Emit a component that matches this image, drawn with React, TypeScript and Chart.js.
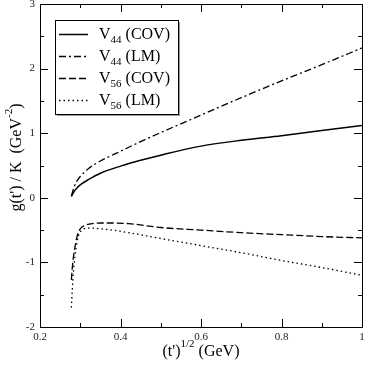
import React, { useEffect, useRef } from "react";
import { Chart, registerables } from "chart.js";

Chart.register(...registerables);

// ---------- data ----------
const xTickLabels = ["0.2", "0.4", "0.6", "0.8", "1"];
const yTickLabels = ["-2", "-1", "0", "1", "2", "3"];

const xV44 = [0.278, 0.285, 0.29, 0.3, 0.32, 0.35, 0.4, 0.45, 0.5, 0.6, 0.7, 0.8, 0.9, 1.0];
const yV44Cov = [0.02, 0.1, 0.14, 0.2, 0.28, 0.38, 0.49, 0.58, 0.66, 0.8, 0.89, 0.96, 1.04, 1.12];
const yV44Lm = [0.03, 0.17, 0.24, 0.33, 0.45, 0.57, 0.72, 0.87, 1.01, 1.28, 1.55, 1.81, 2.06, 2.32];

const xV56 = [0.278, 0.28, 0.283, 0.287, 0.292, 0.298, 0.305, 0.315, 0.33, 0.35, 0.38, 0.42, 0.5, 0.6, 0.7, 0.8, 0.9, 1.0];
const yV56Cov = [-1.27, -1.1, -0.92, -0.76, -0.6, -0.5, -0.45, -0.42, -0.4, -0.39, -0.39, -0.4, -0.46, -0.5, -0.54, -0.57, -0.6, -0.62];
const yV56Lm = [-1.7, -1.45, -1.15, -0.9, -0.68, -0.55, -0.5, -0.47, -0.47, -0.48, -0.5, -0.54, -0.63, -0.74, -0.85, -0.97, -1.08, -1.2];

const seriesNames = ["44", "44", "56", "56"];
const seriesMethods = ["(COV)", "(LM)", "(COV)", "(LM)"];

const FONT = "'Liberation Serif', 'Times New Roman', serif";

type Part = { text: string; size: number; dy: number };

function richWidth(ctx: CanvasRenderingContext2D, parts: Part[]) {
  let w = 0;
  for (const p of parts) {
    ctx.font = `${p.size}px ${FONT}`;
    w += ctx.measureText(p.text).width;
  }
  return w;
}

function drawRich(ctx: CanvasRenderingContext2D, parts: Part[], x: number, y: number, align: "left" | "center") {
  const w = richWidth(ctx, parts);
  let cx = align === "center" ? x - w / 2 : x;
  ctx.textAlign = "left";
  ctx.textBaseline = "alphabetic";
  for (const p of parts) {
    ctx.font = `${p.size}px ${FONT}`;
    ctx.fillText(p.text, cx, y + p.dy);
    cx += ctx.measureText(p.text).width;
  }
}

const decorPlugin = {
  id: "decor",
  afterDraw(chart: any) {
    const ctx: CanvasRenderingContext2D = chart.ctx;
    const { left, right, top, bottom } = chart.chartArea;
    const xs = chart.scales.x;
    const ys = chart.scales.y;
    ctx.save();
    ctx.strokeStyle = "#000";
    ctx.fillStyle = "#000";
    ctx.lineWidth = 1;
    // frame
    ctx.strokeRect(Math.round(left) + 0.5, Math.round(top) + 0.5, Math.round(right - left), Math.round(bottom - top));

    // ticks (inward, all four sides)
    const major = 8;
    const minor = 4;
    const xVals = xs.ticks.map((t: any) => t.value);
    const yVals = ys.ticks.map((t: any) => t.value);
    const xMinor: number[] = [];
    for (let i = 0; i < xVals.length - 1; i++) xMinor.push((xVals[i] + xVals[i + 1]) / 2);
    const yMinor: number[] = [];
    for (let i = 0; i < yVals.length - 1; i++) yMinor.push((yVals[i] + yVals[i + 1]) / 2);
    ctx.beginPath();
    const vx = (v: number, len: number) => {
      const px = Math.round(xs.getPixelForValue(v)) + 0.5;
      ctx.moveTo(px, bottom);
      ctx.lineTo(px, bottom - len);
      ctx.moveTo(px, top);
      ctx.lineTo(px, top + len);
    };
    const vy = (v: number, len: number) => {
      const py = Math.round(ys.getPixelForValue(v)) + 0.5;
      ctx.moveTo(left, py);
      ctx.lineTo(left + len, py);
      ctx.moveTo(right, py);
      ctx.lineTo(right - len, py);
    };
    xVals.forEach((v: number) => vx(v, major));
    xMinor.forEach((v) => vx(v, minor));
    yVals.forEach((v: number) => vy(v, major));
    yMinor.forEach((v) => vy(v, minor));
    ctx.stroke();

    // x axis title
    drawRich(
      ctx,
      [
        { text: "(t')", size: 16, dy: 0 },
        { text: "1/2", size: 11, dy: -9 },
        { text: " (GeV)", size: 16, dy: 0 },
      ],
      (left + right) / 2,
      356,
      "center"
    );

    // y axis title (rotated)
    ctx.save();
    ctx.translate(21, (top + bottom) / 2 - 8);
    ctx.rotate(-Math.PI / 2);
    drawRich(
      ctx,
      [
        { text: "g(t') / K  (GeV", size: 16, dy: 0 },
        { text: "-2", size: 11, dy: -9 },
        { text: ")", size: 16, dy: 0 },
      ],
      0,
      0,
      "center"
    );
    ctx.restore();

    // legend
    const bx = 55, by = 20, bw = 123, bh = 94;
    ctx.fillStyle = "#999";
    ctx.fillRect(bx + 2, by + 2, bw, bh);
    ctx.fillStyle = "#fff";
    ctx.fillRect(bx, by, bw, bh);
    ctx.strokeStyle = "#000";
    ctx.strokeRect(bx + 0.5, by + 0.5, bw, bh);
    const rowY = [34, 56, 78, 100];
    chart.data.datasets.forEach((ds: any, i: number) => {
      ctx.save();
      ctx.strokeStyle = "#000";
      ctx.lineWidth = ds.borderWidth;
      ctx.setLineDash(ds.borderDash || []);
      ctx.beginPath();
      ctx.moveTo(59, rowY[i] + 0.5);
      ctx.lineTo(88, rowY[i] + 0.5);
      ctx.stroke();
      ctx.restore();
      ctx.fillStyle = "#000";
      drawRich(
        ctx,
        [
          { text: "V", size: 16, dy: 0 },
          { text: seriesNames[i], size: 11, dy: 4 },
          { text: " " + seriesMethods[i], size: 16, dy: 0 },
        ],
        99,
        rowY[i] + 5,
        "left"
      );
    });
    ctx.restore();
  },
};

function pts(xs: number[], ys: number[]) {
  return xs.map((x, i) => ({ x, y: ys[i] }));
}

export default function App() {
  const ref = useRef<HTMLCanvasElement>(null);
  useEffect(() => {
    if (!ref.current) return;
    const common = { borderColor: "#000", pointRadius: 0, fill: false, cubicInterpolationMode: "monotone" as const };
    const chart = new Chart(ref.current, {
      type: "line",
      data: {
        datasets: [
          { ...common, label: "V44 (COV)", data: pts(xV44, yV44Cov), borderWidth: 1.5, borderDash: [] },
          { ...common, label: "V44 (LM)", data: pts(xV44, yV44Lm), borderWidth: 1.3, borderDash: [7, 3, 2, 3] },
          { ...common, label: "V56 (COV)", data: pts(xV56, yV56Cov), borderWidth: 1.3, borderDash: [7, 3] },
          { ...common, label: "V56 (LM)", data: pts(xV56, yV56Lm), borderWidth: 1.3, borderDash: [1.5, 3] },
        ],
      },
      options: {
        responsive: false,
        animation: false,
        layout: { padding: { top: 4, right: 3, left: 0, bottom: 0 } },
        plugins: { legend: { display: false }, tooltip: { enabled: false } },
        scales: {
          x: {
            type: "linear",
            min: 0.2,
            max: 1,
            grid: { display: false, drawTicks: false },
            border: { display: false },
            ticks: {
              stepSize: 0.2,
              padding: 4,
              maxRotation: 0,
              color: "#222",
              font: { family: FONT, size: 11 },
              callback: (_v: any, i: number) => xTickLabels[i],
            },
            afterFit: (s: any) => {
              s.height = 38;
              s.paddingLeft = 0;
              s.paddingRight = 0;
            },
          },
          y: {
            type: "linear",
            min: -2,
            max: 3,
            grid: { display: false, drawTicks: false },
            border: { display: false },
            ticks: {
              stepSize: 1,
              padding: 5,
              color: "#222",
              font: { family: FONT, size: 11 },
              callback: (_v: any, i: number) => yTickLabels[i],
            },
            afterFit: (s: any) => {
              s.width = 40;
              s.paddingTop = 0;
              s.paddingBottom = 0;
            },
          },
        },
      },
      plugins: [decorPlugin],
    });
    return () => chart.destroy();
  }, []);
  return (
    <div style={{ position: "absolute", left: 0, top: 0, width: 365, height: 365, background: "#fff" }}>
      <canvas ref={ref} width={365} height={365} />
    </div>
  );
}
